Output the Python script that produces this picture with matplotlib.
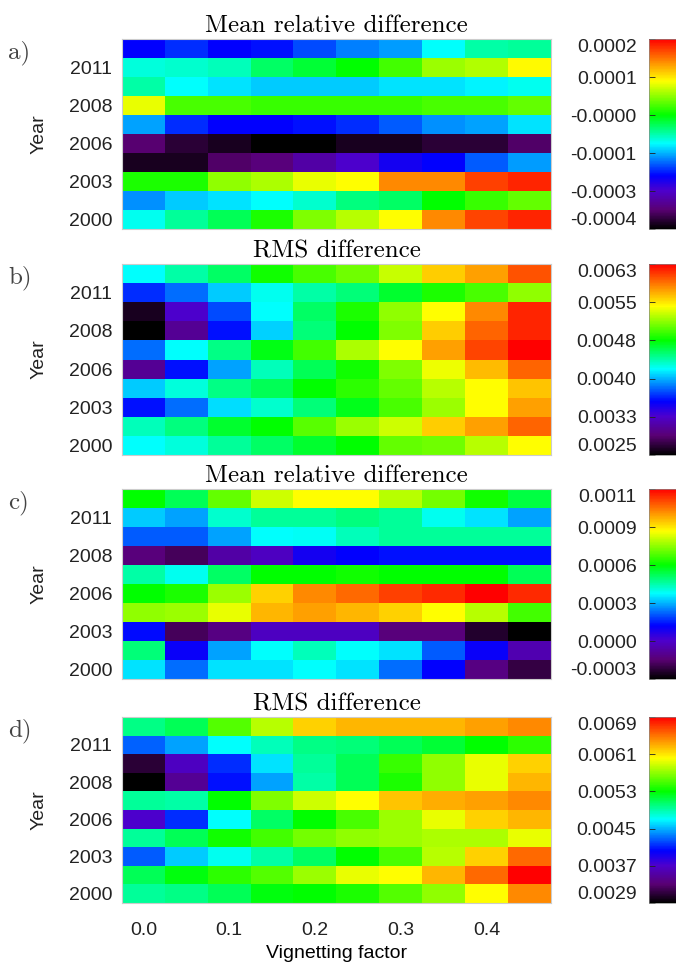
import numpy as np
import matplotlib
matplotlib.use("Agg")
import matplotlib.pyplot as plt
from matplotlib.colors import LinearSegmentedColormap
from matplotlib.ticker import FormatStrFormatter

# vignetting factors (column centres) and years (rows, bottom -> top)
vign = [0.0, 0.05, 0.1, 0.15, 0.2, 0.25, 0.3, 0.35, 0.4, 0.45]
years = [2000, 2001, 2003, 2004, 2006, 2007, 2008, 2009, 2011, 2012]

# a) mean relative difference, units of 1e-5
mean_a = [
    [-10.4, -7.4, -5.0, -0.8, 3.4, 5.8, 8.8, 14.8, 18.4, 19.9],
    [-15.5, -13.1, -12.2, -11.0, -9.2, -6.5, -5.6, -2.0, 0.4, 2.2],
    [-0.8, -0.8, 4.0, 5.2, 7.9, 8.8, 14.8, 14.8, 18.7, 19.9],
    [-36.2, -36.2, -32.6, -31.4, -28.4, -26.0, -22.4, -21.2, -17.6, -14.9],
    [-32.0, -35.0, -36.2, -38.0, -38.0, -36.2, -36.2, -35.0, -35.0, -32.6],
    [-14.6, -19.4, -21.2, -21.2, -20.6, -19.4, -17.6, -15.5, -14.6, -12.2],
    [7.9, 1.0, 1.0, 0.4, 0.4, 0.4, 0.4, 1.0, 1.0, 2.2],
    [-8.0, -11.0, -12.2, -13.1, -13.1, -13.1, -12.2, -12.2, -11.3, -10.4],
    [-9.8, -9.2, -8.6, -5.6, -3.8, -2.0, 0.7, 4.6, 5.5, 9.1],
    [-21.2, -19.4, -21.2, -20.6, -18.2, -16.1, -14.9, -11.0, -8.0, -7.4],
]
# b) RMS difference, units of 1e-4
rms_b = [
    [42.1, 42.9, 44.4, 45.5, 46.7, 47.8, 50.5, 50.8, 52.7, 54.6],
    [43.6, 45.0, 46.7, 47.8, 50.1, 52.0, 53.3, 56.2, 57.7, 59.6],
    [36.0, 38.5, 41.3, 43.2, 45.1, 47.2, 49.7, 52.0, 54.6, 57.7],
    [40.8, 42.9, 44.8, 45.9, 47.8, 48.9, 50.5, 52.7, 54.6, 56.5],
    [30.3, 36.0, 39.8, 43.6, 45.9, 48.2, 51.2, 54.1, 56.9, 59.6],
    [38.5, 42.1, 44.8, 47.4, 49.5, 52.4, 54.6, 57.7, 60.7, 63.0],
    [25.0, 30.3, 36.0, 41.0, 45.1, 47.8, 51.2, 56.2, 59.6, 61.7],
    [26.1, 32.6, 37.5, 42.1, 45.5, 48.6, 51.6, 54.6, 58.4, 61.7],
    [36.8, 38.5, 40.8, 42.5, 44.0, 45.1, 46.7, 48.6, 49.7, 51.6],
    [42.1, 44.0, 45.5, 48.2, 49.7, 50.8, 53.1, 56.2, 57.7, 60.3],
]
# c) mean relative difference, units of 1e-5
mean_c = [
    [33.1, 22.4, 33.1, 33.1, 35.9, 33.1, 22.4, 11.8, -11.0, -19.5],
    [47.3, 10.3, 27.4, 35.9, 41.6, 35.9, 33.1, 20.3, 10.3, -3.9],
    [12.5, -16.6, -11.0, -1.0, -1.0, -1.0, -12.4, -12.4, -22.3, -28.0],
    [71.4, 72.8, 80.6, 91.3, 94.1, 91.3, 88.4, 82.8, 75.7, 63.6],
    [57.2, 60.0, 72.8, 88.4, 97.0, 101.2, 106.2, 109.0, 114.0, 109.0],
    [43.0, 37.3, 48.7, 57.2, 57.2, 58.6, 57.2, 57.2, 57.2, 50.1],
    [-12.4, -16.6, -5.3, -1.0, 8.9, 11.8, 13.2, 13.2, 13.2, 13.2],
    [20.3, 20.3, 27.4, 35.9, 36.6, 41.6, 44.4, 44.4, 44.4, 44.4],
    [30.9, 27.4, 40.2, 44.4, 44.4, 46.6, 44.4, 37.3, 33.1, 27.4],
    [57.2, 50.1, 67.1, 77.8, 82.8, 82.8, 75.7, 68.6, 58.6, 51.5],
]
# d) RMS difference, units of 1e-4
rms_d = [
    [49.4, 49.8, 51.0, 52.6, 53.0, 53.8, 55.4, 57.0, 60.2, 64.2],
    [51.0, 52.6, 54.2, 55.4, 57.4, 59.6, 60.2, 62.6, 65.4, 69.0],
    [42.6, 45.6, 47.4, 49.0, 50.6, 53.0, 55.0, 58.2, 61.8, 65.4],
    [49.4, 51.0, 53.4, 54.8, 56.2, 57.0, 57.4, 57.8, 57.8, 59.6],
    [37.0, 41.4, 47.0, 50.6, 53.0, 55.0, 57.4, 59.6, 61.8, 62.6],
    [49.4, 49.0, 53.0, 56.6, 58.8, 60.2, 62.2, 63.0, 63.4, 64.2],
    [29.0, 34.6, 40.6, 44.6, 49.0, 51.0, 53.8, 57.0, 59.6, 62.6],
    [31.0, 36.6, 41.4, 46.2, 49.4, 51.0, 54.6, 57.0, 59.6, 61.8],
    [42.8, 44.6, 47.0, 48.6, 49.8, 50.2, 51.0, 51.8, 53.0, 54.2],
    [49.8, 51.0, 55.4, 58.2, 61.8, 62.6, 62.6, 62.6, 63.4, 64.2],
]

titles = ["Mean relative difference", "RMS difference",
          "Mean relative difference", "RMS difference"]
letters = ["a)", "b)", "c)", "d)"]
scales = [1e-5, 1e-4, 1e-5, 1e-4]
cranges = [(-0.00038, 0.00022), (0.0025, 0.0063),
           (-0.00028, 0.00114), (0.0029, 0.0069)]

# IDL-like rainbow: black -> purple -> blue -> cyan -> green -> yellow -> red
cmap = LinearSegmentedColormap.from_list("idl_rainbow", [
    (0.00, (0, 0, 0)),
    (0.10, (0.35, 0, 0.45)),
    (0.20, (0.3, 0, 0.8)),
    (0.28, (0, 0, 1)),
    (0.45, (0, 1, 1)),
    (0.60, (0, 1, 0)),
    (0.78, (1, 1, 0)),
    (0.88, (1, 0.55, 0)),
    (1.00, (1, 0, 0)),
])

W, H = 676, 964
fig = plt.figure(figsize=(W / 100, H / 100), dpi=100)
sans = "Liberation Sans"
serif = "cmr10"

# pixel boxes (top, bottom) of each panel
boxes = [(39, 229), (264, 455), (489, 679), (717, 903)]
x0, x1 = 122, 551
cx0 = 649

for i, data in enumerate([mean_a, rms_b, mean_c, rms_d]):
    top, bot = boxes[i]
    ax = fig.add_axes([x0 / W, 1 - bot / H, (x1 - x0) / W, (bot - top) / H])
    z = np.array(data) * scales[i]
    vmin, vmax = cranges[i]
    im = ax.imshow(z, origin="lower", aspect="auto", cmap=cmap,
                   vmin=vmin, vmax=vmax, interpolation="nearest",
                   extent=(vign[0] - 0.025, vign[-1] + 0.025, -0.5, len(years) - 0.5))
    ax.set_yticks(range(0, len(years), 2))
    ax.set_yticklabels([str(y) for y in years[::2]], fontsize=14, family=sans)
    ax.tick_params(axis="both", length=0, pad=7, colors="#222222")
    for s in ax.spines.values():
        s.set_color("#cccccc")
        s.set_linewidth(0.8)
    ax.set_title(titles[i], fontsize=18, family=serif, pad=5)
    if i == 3:
        ax.set_xticks([0.0, 0.1, 0.2, 0.3, 0.4])
        ax.set_xticklabels(["0.0", "0.1", "0.2", "0.3", "0.4"], fontsize=14, family=sans)
        ax.tick_params(axis="x", pad=14)
        ax.set_xlabel("Vignetting factor", fontsize=14, family=sans, labelpad=4)
    else:
        ax.set_xticks([])
    fig.text(39 / W, 1 - (top + bot) / 2 / H, "Year", rotation=90, fontsize=14,
             family=sans, ha="center", va="center", color="#222222")
    fig.text(8 / W, 1 - (top + 14) / H, letters[i], fontsize=18, family=serif,
             ha="left", va="center", color="#444444")

    cax = fig.add_axes([cx0 / W, 1 - bot / H, 0.045, (bot - top) / H])
    cb = fig.colorbar(im, cax=cax)
    cb.set_ticks(np.linspace(vmin, vmax, 6))
    cb.ax.yaxis.set_major_formatter(FormatStrFormatter("%.4f"))
    cb.ax.yaxis.set_ticks_position("left")
    cb.ax.tick_params(direction="in", length=4, width=0.6, pad=9,
                      labelsize=14, colors="#222222")
    for lab in cb.ax.get_yticklabels():
        lab.set_family(sans)
    labs = cb.ax.get_yticklabels()
    labs[0].set_va("bottom")
    labs[-1].set_va("top")
    cb.outline.set_linewidth(0.5)
    cb.outline.set_edgecolor("#888888")

fig.savefig("out.png", dpi=100)
